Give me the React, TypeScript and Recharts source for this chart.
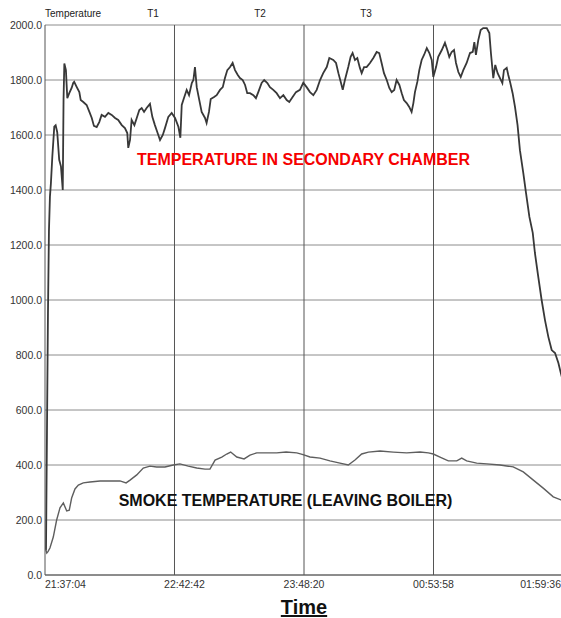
import { LineChart, Line, XAxis, YAxis, CartesianGrid, ReferenceLine } from "recharts";

// minutes after 21:37:04
const chamberMin = [
  0.5, 1.0, 1.5, 2.0, 2.5, 3.0, 3.7, 4.7, 5.4, 6.2,
  7.2, 8.1, 9.0, 9.4, 9.8, 10.6, 11.3, 12.3, 13.5, 14.3,
  14.8, 16.1, 17.4, 18.1, 19.4, 21.1, 22.5, 23.7, 24.8, 26.2,
  27.5, 28.7, 30.4, 32.1, 33.8, 35.5, 37.1, 38.9, 40.5, 41.7,
  42.2, 43.1, 43.9, 45.3, 46.5, 47.8, 49.0, 50.2, 51.5, 53.2,
  54.4, 55.7, 56.9, 58.3, 59.7, 60.8, 62.5, 64.2, 65.9, 67.6,
  68.6, 69.3, 70.4, 71.8, 73.0, 74.4, 75.2, 76.0, 76.9, 78.2,
  79.4, 81.1, 81.9, 83.1, 84.0, 85.7, 87.0, 88.7, 90.1, 91.2,
  92.4, 93.8, 95.1, 96.3, 97.7, 98.8, 100.2, 101.4, 102.5, 103.9,
  105.6, 106.9, 108.1, 109.8, 111.1, 112.7, 114.0, 115.7, 117.4, 119.1,
  120.8, 122.5, 123.8, 125.5, 127.2, 129.2, 130.9, 132.6, 134.3, 136.0,
  137.7, 139.4, 141.0, 142.8, 144.1, 146.1, 147.5, 148.7, 149.9, 150.9,
  152.0, 153.7, 154.9, 155.9, 157.1, 158.3, 159.6, 160.5, 161.7, 163.0,
  164.7, 166.4, 168.1, 169.4, 170.6, 171.8, 173.2, 174.5, 175.7, 177.0,
  178.2, 179.6, 180.8, 181.9, 183.3, 184.6, 185.8, 186.7, 187.5, 188.7,
  189.7, 190.9, 192.1, 193.5, 194.8, 196.0, 196.8, 198.2, 199.3, 201.1,
  202.7, 203.9, 204.9, 206.1, 207.3, 208.3, 209.5, 210.7, 212.0, 213.7,
  215.4, 216.8, 217.6, 218.4, 219.6, 220.8, 222.1, 223.9, 225.2, 226.0,
  227.2, 228.2, 229.4, 230.6, 231.8, 232.6, 234.0, 234.8, 235.7, 237.0,
  238.2, 239.5, 240.7, 242.4, 243.8, 245.5, 247.2, 248.3, 250.0, 251.7,
  253.4, 255.1, 256.8, 258.5, 260.2, 261.3, 262.5,
];
const chamberTemp = [
  90, 520, 950, 1250, 1375, 1425, 1520, 1630, 1635, 1610,
  1510, 1485, 1400, 1730, 1860, 1836, 1734, 1752, 1771, 1789,
  1793, 1774, 1756, 1727, 1720, 1709, 1684, 1662, 1633, 1629,
  1647, 1673, 1666, 1680, 1673, 1662, 1655, 1636, 1625, 1607,
  1553, 1582, 1655, 1636, 1662, 1691, 1698, 1684, 1698, 1713,
  1666, 1636, 1611, 1582, 1600, 1625, 1666, 1680, 1662, 1630,
  1590, 1709, 1734, 1764, 1745, 1789, 1800, 1847, 1774, 1727,
  1684, 1662, 1644, 1684, 1731, 1738, 1745, 1764, 1774, 1807,
  1836, 1847, 1862, 1836, 1818, 1807, 1800, 1782, 1752, 1752,
  1745, 1734, 1756, 1789, 1800, 1789, 1774, 1764, 1752, 1734,
  1745, 1727, 1720, 1738, 1756, 1764, 1790, 1774, 1756, 1745,
  1764, 1800, 1825, 1847, 1880, 1873, 1862, 1825, 1793, 1764,
  1800, 1847, 1884, 1898, 1873, 1880, 1844, 1825, 1847, 1847,
  1862, 1880, 1902, 1898, 1862, 1825, 1800, 1771, 1756, 1764,
  1800, 1782, 1752, 1727, 1716, 1702, 1684, 1716, 1756, 1793,
  1836, 1873, 1891, 1916, 1898, 1873, 1811, 1847, 1884, 1909,
  1935, 1909, 1884, 1902, 1909, 1862, 1829, 1811, 1836, 1862,
  1898, 1902, 1938, 1891, 1945, 1982, 1989, 1989, 1971, 1898,
  1807, 1855, 1825, 1807, 1789, 1836, 1844, 1818, 1793, 1752,
  1702, 1636, 1545, 1462, 1389, 1302, 1244, 1171, 1084, 1000,
  927, 866, 818, 807, 771, 738, 705,
];

const smokeMin = [
  0.3, 0.9, 1.5, 2.5, 4.2, 5.9, 7.6, 9.3, 11.0, 12.3,
  13.5, 15.2, 16.9, 19.4, 22.8, 27.9, 32.9, 38.0, 41.1, 43.1,
  46.5, 49.8, 53.2, 56.6, 60.8, 65.0, 68.4, 72.6, 76.9, 81.1,
  83.6, 86.2, 89.6, 92.1, 94.1, 97.2, 100.9, 103.9, 107.3, 112.4,
  117.4, 122.2, 127.6, 130.8, 134.3, 139.4, 144.4, 149.5, 153.7, 157.1,
  160.5, 163.9, 169.8, 176.5, 183.3, 190.1, 194.3, 196.8, 200.2, 204.4,
  208.7, 211.2, 213.7, 218.8, 223.9, 230.6, 237.3, 242.4, 247.5, 252.5,
  257.6, 261.5, 262.5,
];
const smokeTemp = [
  95, 80, 85, 98, 138, 200, 244, 262, 233, 236,
  280, 313, 327, 335, 338, 342, 342, 342, 335, 345,
  364, 389, 396, 393, 393, 400, 404, 396, 389, 385,
  385, 418, 429, 440, 447, 429, 422, 436, 444, 444,
  444, 447, 444, 438, 429, 425, 415, 407, 400, 418,
  440, 447, 451, 447, 444, 447, 444, 440, 429, 415,
  415, 425, 415, 407, 404, 400, 393, 375, 345, 316,
  284, 273, 268,
];

const xTicks = [0, 65.633, 131.267, 196.9, 262.533];
const xTickLabels = ["21:37:04", "22:42:42", "23:48:20", "00:53:58", "01:59:36"];
const yTicks = [0, 200, 400, 600, 800, 1000, 1200, 1400, 1600, 1800, 2000];

const chamberData = chamberMin.map((m, i) => ({ min: m, temp: chamberTemp[i] }));
const smokeData = smokeMin.map((m, i) => ({ min: m, temp: smokeTemp[i] }));

const FONT = "'Liberation Sans', Arial, sans-serif";

function TimeTick(props: any) {
  const { x, y, index } = props;
  const last = index === xTickLabels.length - 1;
  const anchor = index === 0 ? "start" : last ? "end" : "middle";
  const dx = index === 1 ? 10 : last ? -2 : 0;
  return (
    <text x={x + dx} y={y} dy="0.71em" textAnchor={anchor} fill="#333" fontSize={10.5} fontFamily={FONT}>
      {xTickLabels[index]}
    </text>
  );
}

export default function App() {
  return (
    <div style={{ position: "absolute", left: 0, top: 0, width: 561, height: 618, overflow: "hidden", background: "#fff" }}>
      <LineChart width={565} height={618} margin={{ top: 25, right: 2, left: 0, bottom: 13 }}>
        <CartesianGrid vertical={false} stroke="#8c8c8c" />
        {xTicks.slice(1, 4).map((t) => (
          <ReferenceLine key={t} x={t} stroke="#555" />
        ))}
        <XAxis
          type="number"
          dataKey="min"
          domain={[0, 262.533]}
          ticks={xTicks}
          interval={0}
          tick={<TimeTick />}
          tickSize={0}
          tickMargin={6}
          tickLine={false}
          axisLine={{ stroke: "#555" }}
          height={30}
        />
        <YAxis
          type="number"
          domain={[0, 2000]}
          ticks={yTicks}
          interval={0}
          tickFormatter={(v: number) => v.toFixed(1)}
          width={45}
          tickSize={0}
          tickMargin={3}
          tickLine={false}
          axisLine={{ stroke: "#555" }}
          tick={{ fill: "#333", fontSize: 10.5, fontFamily: FONT }}
        />
        <Line data={chamberData} dataKey="temp" type="linear" stroke="#383838" strokeWidth={1.8} dot={false} isAnimationActive={false} />
        <Line data={smokeData} dataKey="temp" type="linear" stroke="#5e5e5e" strokeWidth={1.4} dot={false} isAnimationActive={false} />
      </LineChart>
      <svg width={561} height={618} style={{ position: "absolute", left: 0, top: 0, pointerEvents: "none" }}>
        <g fontFamily={FONT} fill="#222" fontSize={10}>
          <text x={45} y={17}>Temperature</text>
          <text x={153} y={17} textAnchor="middle">T1</text>
          <text x={260} y={17} textAnchor="middle">T2</text>
          <text x={366} y={17} textAnchor="middle">T3</text>
        </g>
        <text x={303.5} y={165} textAnchor="middle" fontFamily={FONT} fontWeight="bold" fontSize={16} fill="#f50000">
          TEMPERATURE IN SECONDARY CHAMBER
        </text>
        <text x={285.5} y={506} textAnchor="middle" fontFamily={FONT} fontWeight="bold" fontSize={16} fill="#111">
          SMOKE TEMPERATURE (LEAVING BOILER)
        </text>
        <text x={304} y={614} textAnchor="middle" fontFamily={FONT} fontWeight="bold" fontSize={20} fill="#111" textDecoration="underline">
          Time
        </text>
      </svg>
    </div>
  );
}
